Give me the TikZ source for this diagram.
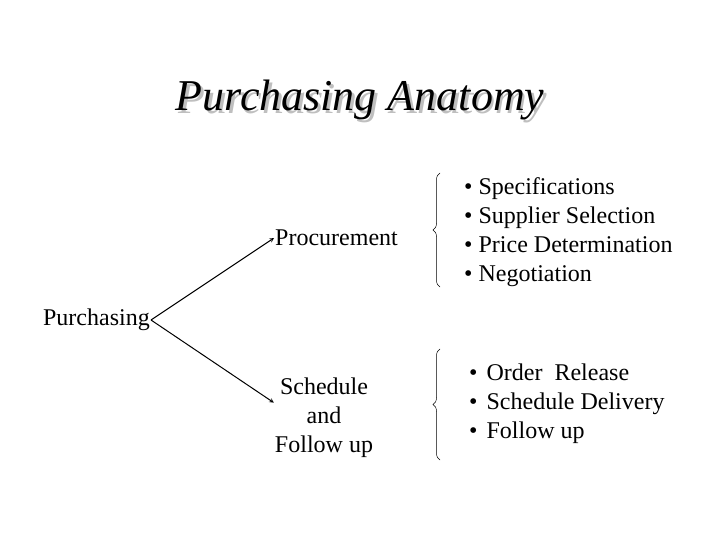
\documentclass[tikz,border=0pt]{standalone}
\usepackage{fontspec}
\setmainfont{Liberation Serif}
\usetikzlibrary{decorations.pathreplacing}

\begin{document}
\begin{tikzpicture}[x=1pt,y=-1pt,
    voce/.style={font=\fontsize{24}{29}\selectfont,inner sep=1pt},
    elenco/.style={voce,align=left,anchor=west,inner sep=0pt},
    graffa/.style={decorate,decoration={brace,amplitude=7pt},line width=0.5pt}]
    \useasboundingbox (0,0) rectangle (720,540);
    %titolo con ombra
    \node[font=\fontsize{44}{48}\selectfont\itshape,text=gray!50] (ombra) at (362.5,102.5) {Purchasing Anatomy};
    \node[font=\fontsize{44}{48}\selectfont\itshape] (titolo) at (360,100) {Purchasing Anatomy};
    %nodi
    \node[voce,anchor=east] (purch) at (151,320) {Purchasing};
    \node[voce,anchor=west] (proc) at (274,238) {Procurement};
    \node[voce,align=center] (sched) at (324,418) {Schedule\\and\\Follow up};
    %frecce
    \draw[-stealth,line width=1pt] (purch.east) -- (proc.west);
    \draw[-stealth,line width=1pt] (purch.east) -- (sched.163);
    %elenchi
    \node[elenco] (lista1) at (464,232) {\textbullet\ Specifications\\\textbullet\ Supplier Selection\\\textbullet\ Price Determination\\\textbullet\ Negotiation};
    \node[elenco] (lista2) at (469,404) {\textbullet\hspace{9pt}Order\ \ Release\\\textbullet\hspace{9pt}Schedule Delivery\\\textbullet\hspace{9pt}Follow up};
    %graffe
    \draw[graffa] (440,287) -- (440,173);
    \draw[graffa] (440,460) -- (440,349);
\end{tikzpicture}
\end{document}
